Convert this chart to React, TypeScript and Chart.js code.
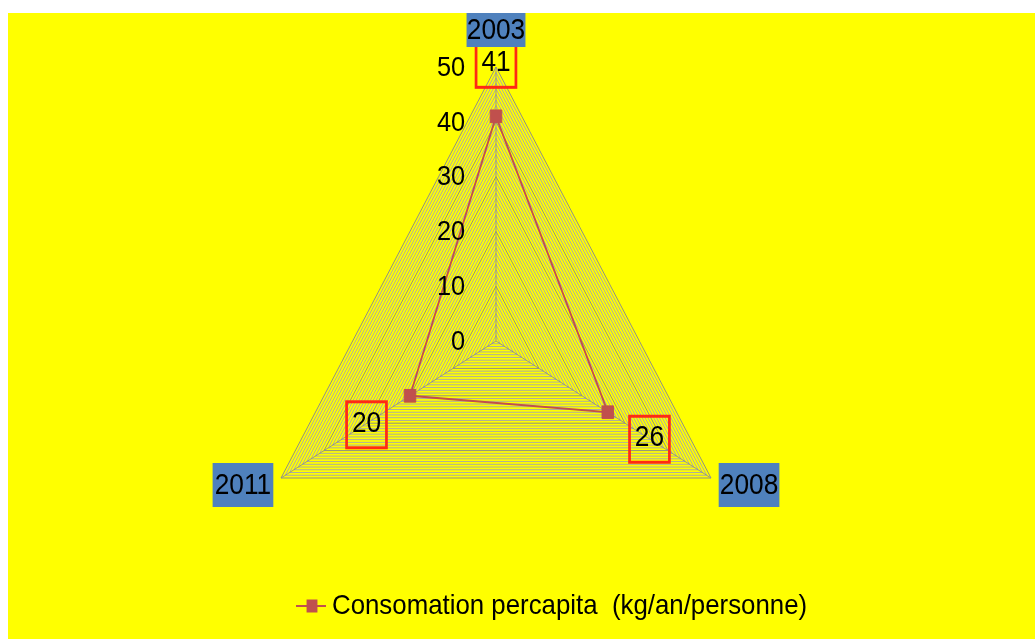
import React, { useEffect, useRef } from 'react';
import { Chart, registerables } from 'chart.js';

Chart.register(...registerables);

// ---- data ----
const categories = ['2003', '2008', '2011'];
const seriesName = 'Consomation percapita  (kg/an/personne)';
const values = [41, 26, 20];
const tickLabels = [0, 10, 20, 30, 40, 50];
const scaleMin = 0;
const scaleMax = 50;
const minorStep = 1;

// ---- layout / style ----
const W = 1027;
const H = 626;
const SX = 0.906; // horizontal squeeze of the original picture
const FONT = '"Liberation Sans", Arial, sans-serif';
const LINE_RED = '#c0504d';
const BOX_RED = '#ff2a14';
const LABEL_BLUE = '#4f81bd';

const dataLabelOffsets = [[0, -52], [46, 27], [-48, 29]];
const pointLabelOffsets = [[0, -37], [42, 7], [-42, 7]];
const pointLabelSizes = [[65, 34], [67, 44], [67, 44]];

const squeezePlugin = {
  id: 'squeeze',
  beforeDraw(chart: any) {
    const r = chart.scales.r;
    const ctx = chart.ctx;
    ctx.save();
    ctx.translate(r.xCenter, 0);
    ctx.scale(SX, 1);
    ctx.translate(-r.xCenter, 0);
  },
  afterDraw(chart: any) {
    const r = chart.scales.r;
    const ctx = chart.ctx;
    const cx = r.xCenter;
    const toU = (xc: number) => cx + (xc - cx) / SX;

    // tick labels
    ctx.fillStyle = '#000';
    ctx.font = `28px ${FONT}`;
    ctx.textAlign = 'right';
    ctx.textBaseline = 'middle';
    tickLabels.forEach((v) => {
      const y = r.yCenter - r.getDistanceFromCenterForValue(v);
      ctx.fillText(String(v), cx - 34, y + 1);
    });

    // data labels with red boxes
    const meta = chart.getDatasetMeta(0);
    ctx.font = `29px ${FONT}`;
    ctx.textAlign = 'center';
    meta.data.forEach((pt: any, i: number) => {
      const bx = pt.x + dataLabelOffsets[i][0];
      const by = pt.y + dataLabelOffsets[i][1];
      ctx.strokeStyle = BOX_RED;
      ctx.lineWidth = 3;
      ctx.strokeRect(bx - 22, by - 23, 44, 46);
      ctx.fillStyle = '#000';
      ctx.fillText(String(values[i]), bx, by - 1);
    });

    // category labels (blue boxes)
    categories.forEach((c, i) => {
      const v = r.getPointPosition(i, r.drawingArea);
      const lx = v.x + pointLabelOffsets[i][0];
      const ly = v.y + pointLabelOffsets[i][1];
      const [bw, bh] = pointLabelSizes[i];
      ctx.fillStyle = LABEL_BLUE;
      ctx.fillRect(lx - bw / 2, ly - bh / 2, bw, bh);
      ctx.fillStyle = '#000';
      ctx.font = `29px ${FONT}`;
      ctx.textAlign = 'center';
      ctx.textBaseline = 'middle';
      ctx.fillText(c, lx, ly + 1);
    });

    // legend
    const ly = 593;
    ctx.strokeStyle = LINE_RED;
    ctx.lineWidth = 2;
    ctx.beginPath();
    ctx.moveTo(toU(288), ly);
    ctx.lineTo(toU(318), ly);
    ctx.stroke();
    ctx.fillStyle = LINE_RED;
    ctx.fillRect(toU(304) - 6, ly - 6.5, 12, 13);
    ctx.fillStyle = '#000';
    ctx.font = `28.5px ${FONT}`;
    ctx.textAlign = 'left';
    ctx.textBaseline = 'middle';
    ctx.fillText(seriesName, toU(324), ly);

    ctx.restore();
  },
};

export default function App() {
  const ref = useRef<HTMLCanvasElement>(null);

  useEffect(() => {
    if (!ref.current) return;
    const chart = new Chart(ref.current, {
      type: 'radar',
      data: {
        labels: categories,
        datasets: [
          {
            label: seriesName,
            data: values,
            borderColor: LINE_RED,
            backgroundColor: LINE_RED,
            borderWidth: 2,
            fill: false,
            pointStyle: 'rect',
            pointRadius: 9,
            pointBackgroundColor: LINE_RED,
            pointBorderColor: LINE_RED,
            pointBorderWidth: 1,
          },
        ],
      },
      options: {
        responsive: false,
        animation: false,
        layout: { padding: { left: 214, top: 54, right: 265, bottom: 24 } },
        plugins: {
          legend: { display: false },
          tooltip: { enabled: false },
        },
        scales: {
          r: {
            min: scaleMin,
            max: scaleMax,
            beginAtZero: true,
            ticks: { display: false, stepSize: minorStep },
            pointLabels: { display: false },
            grid: {
              color: (c: any) => (c.tick && c.tick.value % 10 === 0 ? '#8a8a8a' : '#a8a8a8'),
              lineWidth: 1,
            },
            angleLines: { color: '#909090', lineWidth: 1 },
          },
        },
      },
      plugins: [squeezePlugin],
    });
    return () => chart.destroy();
  }, []);

  return (
    <div
      style={{
        position: 'fixed',
        left: 8,
        top: 13,
        width: W,
        height: H,
        background: '#ffff00',
      }}
    >
      <canvas ref={ref} width={W} height={H} style={{ width: W, height: H, display: 'block' }} />
    </div>
  );
}
